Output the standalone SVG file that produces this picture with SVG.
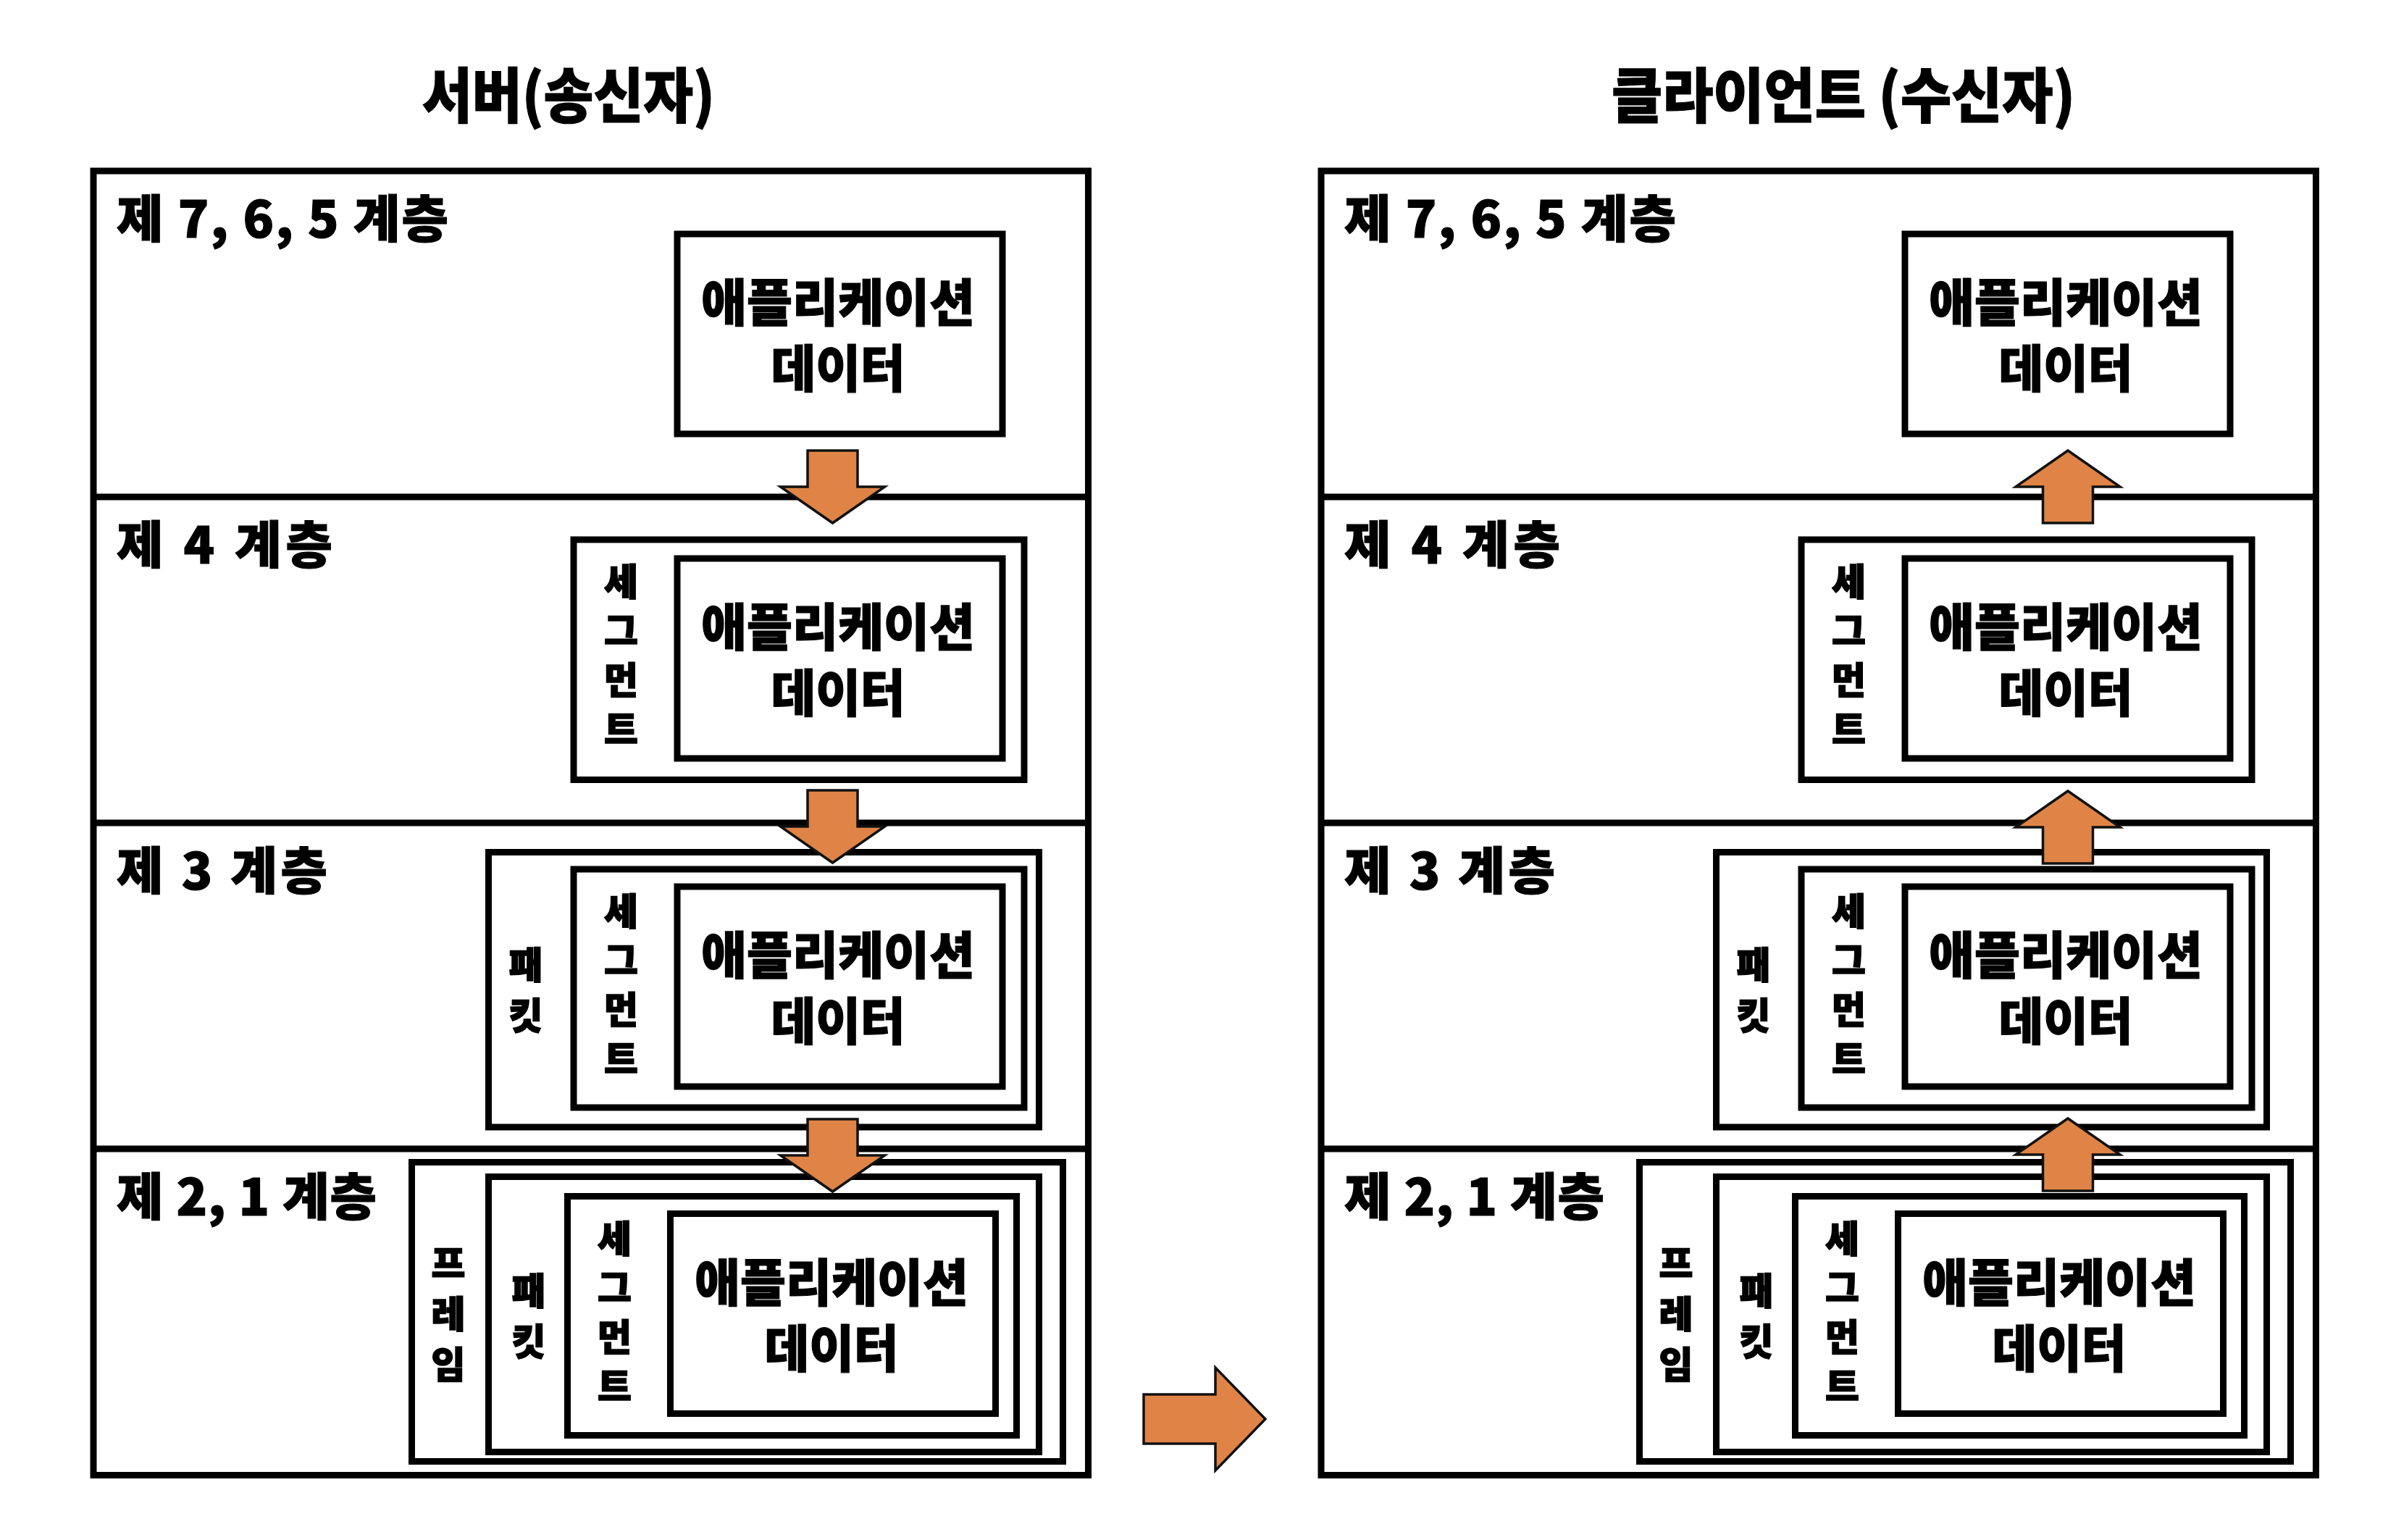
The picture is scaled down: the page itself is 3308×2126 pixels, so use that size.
<svg xmlns="http://www.w3.org/2000/svg" width="3308" height="2126" viewBox="0 0 3308 2126">
<style>
.bg{fill:#fff}
.box{fill:none;stroke:#000;stroke-width:9}
.line{stroke:#000;stroke-width:9}
.arrow{fill:#DF8446;stroke:#111;stroke-width:3.5;stroke-linejoin:miter}
.t{font-family:"Noto Sans CJK KR","Noto Sans",sans-serif;font-weight:900;fill:#000;stroke:#000;stroke-width:1.2}
.title{font-size:82px;text-anchor:middle}
.label{font-size:70px}
.app{font-size:70px;text-anchor:middle}
.v{font-size:51px;text-anchor:middle;stroke-width:1.6}
</style>
<rect class="bg" x="0" y="0" width="3308" height="2126"/>

<g id="titles">
<text id="title-server" class="t title" x="785" y="162" textLength="404" lengthAdjust="spacingAndGlyphs">서버(송신자)</text>
<text id="title-client" class="t title" x="2545" y="162" textLength="640" lengthAdjust="spacingAndGlyphs">클라이언트 (수신자)</text>
</g>

<!-- SERVER PANEL -->
<g id="server">
<g id="s-panel">
<rect class="box" x="129" y="236" width="1373.5" height="1800.5"/>
<line class="line" x1="129" y1="686" x2="1502.5" y2="686"/>
<line class="line" x1="129" y1="1136" x2="1502.5" y2="1136"/>
<line class="line" x1="129" y1="1586" x2="1502.5" y2="1586"/>
<text class="t label" x="161" y="328" textLength="458">제 7, 6, 5 계층</text>
<text class="t label" x="161" y="778" textLength="298">제 4 계층</text>
<text class="t label" x="161" y="1228" textLength="291">제 3 계층</text>
<text class="t label" x="161" y="1678" textLength="359">제 2, 1 계층</text>
</g>
<g id="s-l7-app">
<rect class="box" x="935" y="323" width="449" height="276"/>
<text class="t app" x="1157" y="444" textLength="378" lengthAdjust="spacingAndGlyphs">애플리케이션</text>
<text class="t app" x="1157" y="535" textLength="185" lengthAdjust="spacingAndGlyphs">데이터</text>
</g>
<g id="s-l4-seg">
<rect class="box" x="792" y="745" width="622" height="331.5"/>
<text class="t v"><tspan x="857.5" y="822">세</tspan><tspan x="857.5" y="890">그</tspan><tspan x="857.5" y="958">먼</tspan><tspan x="857.5" y="1026">트</tspan></text>
</g>
<g id="s-l4-app">
<rect class="box" x="935" y="771" width="449" height="276"/>
<text class="t app" x="1157" y="892" textLength="378" lengthAdjust="spacingAndGlyphs">애플리케이션</text>
<text class="t app" x="1157" y="983" textLength="185" lengthAdjust="spacingAndGlyphs">데이터</text>
</g>
<g id="s-l3-pkt">
<rect class="box" x="674.5" y="1176.5" width="760" height="379.5"/>
<text class="t v"><tspan x="726" y="1351">패</tspan><tspan x="726" y="1421">킷</tspan></text>
</g>
<g id="s-l3-seg">
<rect class="box" x="792" y="1200" width="622" height="329"/>
<text class="t v"><tspan x="857.5" y="1277">세</tspan><tspan x="857.5" y="1345">그</tspan><tspan x="857.5" y="1413">먼</tspan><tspan x="857.5" y="1481">트</tspan></text>
</g>
<g id="s-l3-app">
<rect class="box" x="935" y="1224" width="449" height="276"/>
<text class="t app" x="1157" y="1345" textLength="378" lengthAdjust="spacingAndGlyphs">애플리케이션</text>
<text class="t app" x="1157" y="1436" textLength="185" lengthAdjust="spacingAndGlyphs">데이터</text>
</g>
<g id="s-l2-frame">
<rect class="box" x="568.5" y="1604.5" width="899" height="413"/>
<text class="t v"><tspan x="619" y="1763">프</tspan><tspan x="619" y="1833">레</tspan><tspan x="619" y="1903">임</tspan></text>
</g>
<g id="s-l2-pkt">
<rect class="box" x="674.5" y="1624.5" width="760" height="380"/>
<text class="t v"><tspan x="730" y="1801">패</tspan><tspan x="730" y="1871">킷</tspan></text>
</g>
<g id="s-l2-seg">
<rect class="box" x="783.5" y="1651.5" width="620" height="330"/>
<text class="t v"><tspan x="848.5" y="1728.5">세</tspan><tspan x="848.5" y="1796.5">그</tspan><tspan x="848.5" y="1864.5">먼</tspan><tspan x="848.5" y="1932.5">트</tspan></text>
</g>
<g id="s-l2-app">
<rect class="box" x="925.5" y="1675.5" width="449" height="276"/>
<text class="t app" x="1148" y="1796.5" textLength="378" lengthAdjust="spacingAndGlyphs">애플리케이션</text>
<text class="t app" x="1148" y="1887.5" textLength="185" lengthAdjust="spacingAndGlyphs">데이터</text>
</g>
</g>

<!-- CLIENT PANEL -->
<g id="client">
<g id="c-panel">
<rect class="box" x="1824" y="236" width="1373.5" height="1800.5"/>
<line class="line" x1="1824" y1="686" x2="3197.5" y2="686"/>
<line class="line" x1="1824" y1="1136" x2="3197.5" y2="1136"/>
<line class="line" x1="1824" y1="1586" x2="3197.5" y2="1586"/>
<text class="t label" x="1856" y="328" textLength="458">제 7, 6, 5 계층</text>
<text class="t label" x="1856" y="778" textLength="298">제 4 계층</text>
<text class="t label" x="1856" y="1228" textLength="291">제 3 계층</text>
<text class="t label" x="1856" y="1678" textLength="359">제 2, 1 계층</text>
</g>
<g id="c-l7-app">
<rect class="box" x="2630" y="323" width="449" height="276"/>
<text class="t app" x="2852" y="444" textLength="378" lengthAdjust="spacingAndGlyphs">애플리케이션</text>
<text class="t app" x="2852" y="535" textLength="185" lengthAdjust="spacingAndGlyphs">데이터</text>
</g>
<g id="c-l4-seg">
<rect class="box" x="2487" y="745" width="622" height="331.5"/>
<text class="t v"><tspan x="2552.5" y="822">세</tspan><tspan x="2552.5" y="890">그</tspan><tspan x="2552.5" y="958">먼</tspan><tspan x="2552.5" y="1026">트</tspan></text>
</g>
<g id="c-l4-app">
<rect class="box" x="2630" y="771" width="449" height="276"/>
<text class="t app" x="2852" y="892" textLength="378" lengthAdjust="spacingAndGlyphs">애플리케이션</text>
<text class="t app" x="2852" y="983" textLength="185" lengthAdjust="spacingAndGlyphs">데이터</text>
</g>
<g id="c-l3-pkt">
<rect class="box" x="2369.5" y="1176.5" width="760" height="379.5"/>
<text class="t v"><tspan x="2421" y="1351">패</tspan><tspan x="2421" y="1421">킷</tspan></text>
</g>
<g id="c-l3-seg">
<rect class="box" x="2487" y="1200" width="622" height="329"/>
<text class="t v"><tspan x="2552.5" y="1277">세</tspan><tspan x="2552.5" y="1345">그</tspan><tspan x="2552.5" y="1413">먼</tspan><tspan x="2552.5" y="1481">트</tspan></text>
</g>
<g id="c-l3-app">
<rect class="box" x="2630" y="1224" width="449" height="276"/>
<text class="t app" x="2852" y="1345" textLength="378" lengthAdjust="spacingAndGlyphs">애플리케이션</text>
<text class="t app" x="2852" y="1436" textLength="185" lengthAdjust="spacingAndGlyphs">데이터</text>
</g>
<g id="c-l2-frame">
<rect class="box" x="2263.5" y="1604.5" width="899" height="413"/>
<text class="t v"><tspan x="2314" y="1763">프</tspan><tspan x="2314" y="1833">레</tspan><tspan x="2314" y="1903">임</tspan></text>
</g>
<g id="c-l2-pkt">
<rect class="box" x="2369.5" y="1624.5" width="760" height="380"/>
<text class="t v"><tspan x="2425" y="1801">패</tspan><tspan x="2425" y="1871">킷</tspan></text>
</g>
<g id="c-l2-seg">
<rect class="box" x="2478.5" y="1651.5" width="620" height="330"/>
<text class="t v"><tspan x="2543.5" y="1728.5">세</tspan><tspan x="2543.5" y="1796.5">그</tspan><tspan x="2543.5" y="1864.5">먼</tspan><tspan x="2543.5" y="1932.5">트</tspan></text>
</g>
<g id="c-l2-app">
<rect class="box" x="2620.5" y="1675.5" width="449" height="276"/>
<text class="t app" x="2843" y="1796.5" textLength="378" lengthAdjust="spacingAndGlyphs">애플리케이션</text>
<text class="t app" x="2843" y="1887.5" textLength="185" lengthAdjust="spacingAndGlyphs">데이터</text>
</g>
</g>

<g id="connectors">
<!-- server: down arrows -->
<polygon class="arrow" points="1115,622 1184,622 1184,672 1221.5,672 1149.5,722 1077.5,672 1115,672"/>
<polygon class="arrow" points="1115,1091 1184,1091 1184,1141 1221.5,1141 1149.5,1191 1077.5,1141 1115,1141"/>
<polygon class="arrow" points="1115,1545 1184,1545 1184,1595 1221.5,1595 1149.5,1645 1077.5,1595 1115,1595"/>
<!-- client: up arrows -->
<polygon class="arrow" points="2855,622 2927,672 2889.5,672 2889.5,722 2820.5,722 2820.5,672 2783,672"/>
<polygon class="arrow" points="2855,1092 2927,1142 2889.5,1142 2889.5,1192 2820.5,1192 2820.5,1142 2783,1142"/>
<polygon class="arrow" points="2855,1544 2927,1594 2889.5,1594 2889.5,1644 2820.5,1644 2820.5,1594 2783,1594"/>
<!-- server to client -->
<polygon class="arrow" points="1579,1925 1678,1925 1678,1888 1747,1959 1678,2030 1678,1993 1579,1993"/>
</g>
</svg>
